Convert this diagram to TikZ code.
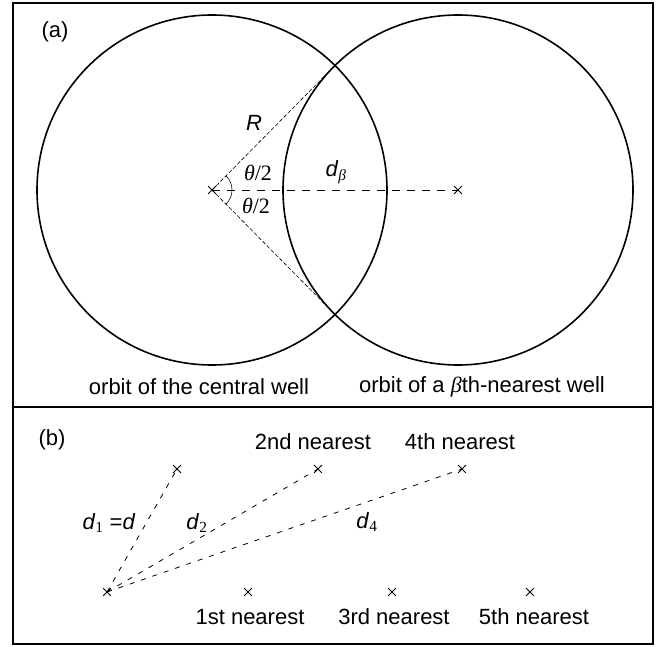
\documentclass[tikz,border=0pt]{standalone}
\usepackage{fontspec}
\setmainfont{Liberation Sans}
\newfontfamily\grk{Liberation Serif}
\usetikzlibrary{shapes.misc}

\newcommand{\dsym}[1]{\textit{d}\textsubscript{\grk #1}}

\begin{document}
\begin{tikzpicture}[x=1pt,y=-1pt,font=\fontsize{22}{26}\selectfont,
    frame/.style={line width=1.2pt},
    orbit/.style={line width=1.6pt},
    well/.style={draw,cross out,minimum size=7pt,inner sep=0pt,line width=0.8pt},
    radius line/.style={dash pattern=on 4pt off 2pt,line width=0.6pt},
    dist line/.style={dash pattern=on 8pt off 7pt,line width=0.8pt},
    near line/.style={dash pattern=on 5pt off 7pt,line width=0.8pt}]
    % Frame and divider
    \useasboundingbox (0,0) rectangle (670,647);
    \draw[frame] (13,3) rectangle (653,644);
    \draw[frame] (13,407) -- (653,407);

    % Panel (a): orbit of the central well and of a neighbour
    \node[anchor=west] (tagA) at (38,32) {(a)};
    \node[well] (cen) at (212,190) {};
    \node[well] (nbr) at (458,190) {};
    \draw[orbit] (cen.center) circle[radius=175pt];
    \draw[orbit] (nbr.center) circle[radius=175pt];
    \coordinate (up) at (335,65.5);
    \coordinate (dn) at (335,314.5);
    \draw[radius line] (cen.center) -- (up);
    \draw[radius line] (cen.center) -- (dn);
    \draw[dist line] (cen.center) -- (nbr.center);
    \draw[line width=0.6pt] (cen.center) ++(-45:20pt) arc[start angle=-45,end angle=45,radius=20pt];
    \node (lblR) at (254,123) {\textit{R}};
    \node (lblThU) at (258,173) {{\grk\textit{θ}/2}};
    \node (lblThD) at (256,206) {{\grk\textit{θ}/2}};
    \node (lblDb) at (336,172) {\dsym{\textit{β}}};
    \node (capCen) at (199,387) {orbit of the central well};
    \node (capNbr) at (482,387) {orbit of a {\grk\textit{β}}th-nearest well};

    % Panel (b): neighbours of a well
    \node[anchor=west] (tagB) at (35,440) {(b)};
    \node[well] (org) at (107,592) {};
    \node[well] (n1) at (248,592) {};
    \node[well] (n3) at (392,592) {};
    \node[well] (n5) at (530,592) {};
    \node[well] (m1) at (177,469) {};
    \node[well] (n2) at (318,469) {};
    \node[well] (n4) at (462,469) {};
    \draw[near line] (org.center) -- (m1.center);
    \draw[near line] (org.center) -- (n2.center);
    \draw[near line] (org.center) -- (n4.center);
    \node (lblD1) at (109,523) {\dsym{1} =\textit{d}};
    \node (lblD2) at (197,523) {\dsym{2}};
    \node (lblD4) at (367,522) {\dsym{4}};
    \node (txt2) at (313,442) {2nd nearest};
    \node (txt4) at (460,442) {4th nearest};
    \node (txt1) at (250,617) {1st nearest};
    \node (txt3) at (394,617) {3rd nearest};
    \node (txt5) at (534,617) {5th nearest};
\end{tikzpicture}
\end{document}
